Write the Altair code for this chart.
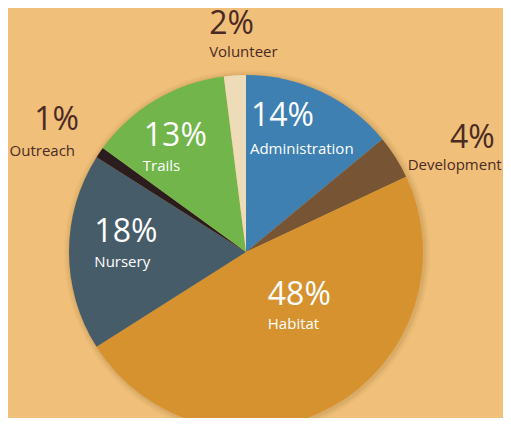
import math
import altair as alt
import pandas as pd

# ---- data ----
categories = ["Administration", "Development", "Habitat", "Nursery", "Outreach", "Trails", "Volunteer"]
shares = [14, 4, 48, 18, 1, 13, 2]

# ---- styles / layout (kept apart from the data) ----
slice_colors = ["#3D80B1", "#775434", "#D5922E", "#475C69", "#2B1D1D", "#72B54B", "#EEDCB8"]
label_radius = [126, 276, 57, 152, 210, 148, 221]
label_angle_shift = [-23.4, 10.3, 6.3, 3.8, 1.3, -13.6, -6.0]
label_align = ["left", "right", "left", "left", "right", "left", "left"]
label_tone = ["in", "out", "in", "in", "out", "in", "out"]
name_gap = [28, 22, 24, 25, 26, 25, 23]
pct_dx = [1, -7, 0, 0, 4, 1, 0]

BG = "#F0C07A"
DARK = "#4A2A25"
CX, CY, R = 238, 244, 177

df = pd.DataFrame({"name": categories, "share": shares})
df["idx"] = range(len(df))
df["pct"] = df["share"].astype(str) + "%"
tot = df["share"].sum()
cum = df["share"].cumsum()
mid_deg = (cum - df["share"] / 2) / tot * 360
df["lang"] = [(m + s) * math.pi / 180 for m, s in zip(mid_deg, label_angle_shift)]
df["lr"] = label_radius

color_scale = alt.Scale(domain=categories, range=slice_colors)

base = alt.Chart(df)


def glow(extra, op):
    return base.mark_arc(radius=R + extra, opacity=op, color="#8F5F28").encode(
        theta=alt.Theta("share:Q", stack=True),
        order=alt.Order("idx:Q"),
        x=alt.value(CX + 1), y=alt.value(CY + 1),
    )


pie = base.mark_arc(radius=R).encode(
    theta=alt.Theta("share:Q", stack=True),
    color=alt.Color("name:N", scale=color_scale, legend=None),
    order=alt.Order("idx:Q"),
    x=alt.value(CX), y=alt.value(CY),
)

layers = [glow(6, 0.05), glow(4, 0.07), glow(2, 0.10), pie]
for i, nm_ in enumerate(categories):
    col = "white" if label_tone[i] == "in" else DARK
    al = label_align[i]
    filt = alt.datum.name == nm_
    enc = dict(
        theta=alt.Theta("lang:Q", scale=None, stack=False),
        radius=alt.Radius("lr:Q", scale=None),
        x=alt.value(CX), y=alt.value(CY),
    )
    pct = base.transform_filter(filt).mark_text(
        align=al, baseline="alphabetic", font="Open Sans", fontSize=32,
        color=col, dx=pct_dx[i],
    ).encode(text="pct:N", **enc)
    nm = base.transform_filter(filt).mark_text(
        align=al, baseline="alphabetic", font="Open Sans", fontSize=15,
        color=col, dy=name_gap[i],
    ).encode(text="name:N", **enc)
    layers += [pct, nm]

chart = alt.layer(*layers).properties(
    width=495, height=410, padding=0, autosize="none", background=BG
).configure_view(stroke=None)

chart.save("out.html", embed_options={"renderer": "svg", "actions": False})
